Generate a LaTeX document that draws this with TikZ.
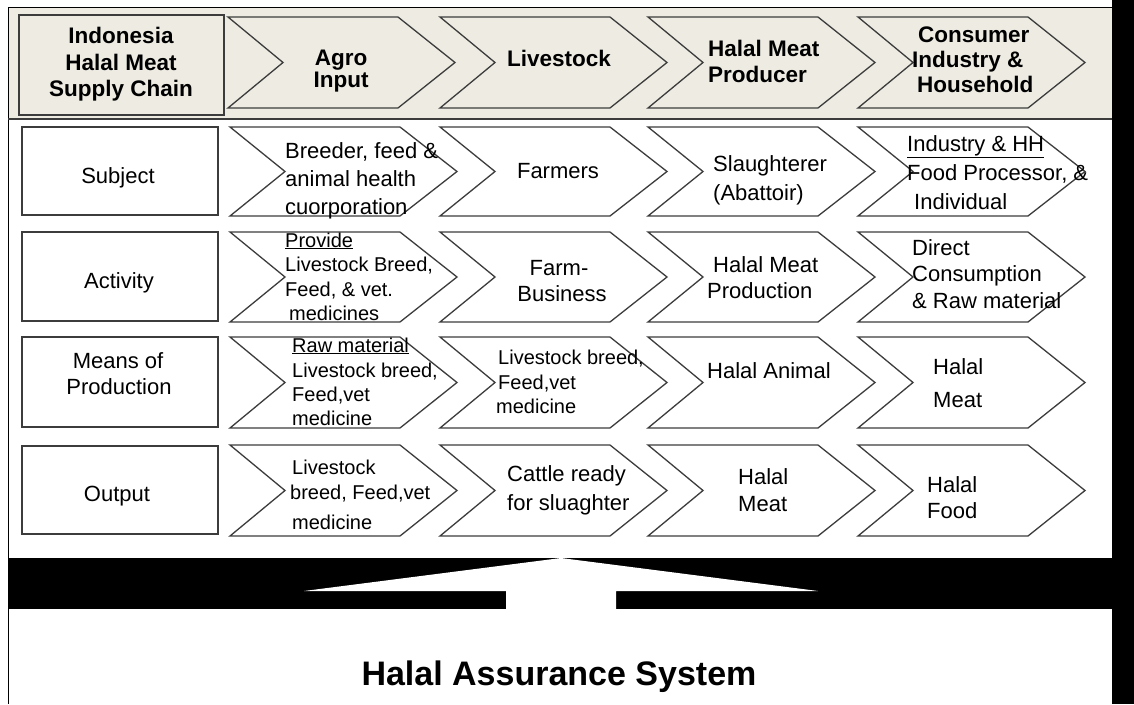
\documentclass[tikz,border=0pt]{standalone}
\usepackage{fontspec}
\setmainfont{Liberation Sans}
\definecolor{hdrfill}{RGB}{237,235,226}
\definecolor{linegray}{RGB}{60,60,60}
\tikzset{
  chevline/.style={draw=linegray, line width=1.3pt, line join=miter},
  boxline/.style={draw=linegray, line width=1.3pt},
  body/.style={font=\fontsize{22}{26}\selectfont, inner sep=0pt, anchor=base west},
  bodyc/.style={body, anchor=base},
  small/.style={font=\fontsize{20}{24}\selectfont, inner sep=0pt, anchor=base west},
  head/.style={font=\bfseries\fontsize{22.5}{26}\selectfont, inner sep=0pt, anchor=base west},
  headc/.style={head, anchor=base},
  has/.style={font=\bfseries\fontsize{34}{40}\selectfont, inner sep=0pt, anchor=base}
}
\newcommand\chv[4]{\draw[chevline,fill=#4] (#1,#2) -- (#1+170,#2) -- (#1+227,{(#2+#3)/2}) -- (#1+170,#3) -- (#1,#3) -- (#1+55,{(#2+#3)/2}) -- cycle;}
\newcommand\tx[5]{\node[#1] (#2) at (#3,#4) {#5};}
\begin{document}
\begin{tikzpicture}[x=1pt,y=-1pt]
\useasboundingbox (0,0) rectangle (1134,704);
\fill[white] (0,0) rectangle (1134,704);
% header band
\fill[hdrfill] (8,7) rectangle (1112,119);
\draw[black, line width=1pt] (8,7) -- (1112,7);
\draw[black, line width=1pt] (8,7) -- (8,704);
\draw[linegray, line width=1.6pt] (8,119) -- (1112,119);
% right black bar
\fill[black] (1112,0) rectangle (1134,704);
% header left box
\draw[boxline, fill=hdrfill] (19,15) rectangle (224,115);
% header chevrons
\chv{228}{17}{108}{hdrfill}
\chv{440}{17}{108}{hdrfill}
\chv{648}{17}{108}{hdrfill}
\chv{858}{17}{108}{hdrfill}
% body left boxes
\draw[boxline, fill=white] (22,127) rectangle (218,215);
\draw[boxline, fill=white] (22,232) rectangle (218,321);
\draw[boxline, fill=white] (22,337) rectangle (218,427);
\draw[boxline, fill=white] (22,446) rectangle (218,534);
% body chevrons
\foreach \L in {230,440,648,858}{
  \chv{\L}{127}{216}{white}
  \chv{\L}{232}{322}{white}
  \chv{\L}{337}{428}{white}
  \chv{\L}{445}{536}{white}
}
% black band with white arrow
\fill[black] (8,558) rectangle (1112,609);
\fill[white] (561,558) -- (818,591) -- (616,591) -- (616,610) -- (506,610) -- (506,591) -- (304,591) -- cycle;
% header texts
\tx{headc}{h1}{121}{43}{Indonesia}
\tx{headc}{h2}{121}{70}{Halal Meat}
\tx{headc}{h3}{121}{96}{Supply Chain}
\tx{headc}{h4}{341}{65}{Agro}
\tx{headc}{h5}{341}{87}{Input}
\tx{headc}{h6}{559}{66}{Livestock}
\tx{head}{h7}{708}{56}{Halal Meat}
\tx{head}{h8}{708}{82}{Producer}
\tx{head}{h9}{918}{42}{Consumer}
\tx{head}{h10}{912}{67}{Industry \&}
\tx{head}{h11}{917}{92}{Household}
% left column
\tx{bodyc}{l1}{118}{183}{Subject}
\tx{bodyc}{l2}{119}{288}{Activity}
\tx{bodyc}{l3}{118}{368}{Means of}
\tx{bodyc}{l4}{119}{394}{Production}
\tx{bodyc}{l5}{117}{501}{Output}
% agro column
\tx{body}{a1}{285}{158}{Breeder, feed \&}
\tx{body}{a2}{285}{186}{animal health}
\tx{body}{a3}{285}{214}{cuorporation}
\tx{small}{a4}{285}{247}{\underline{Provide}}
\tx{small}{a5}{285}{271}{Livestock Breed,}
\tx{small}{a6}{285}{296}{Feed, \& vet.}
\tx{small}{a7}{289}{320}{medicines}
\tx{small}{a8}{292}{352}{\underline{Raw material}}
\tx{small}{a9}{292}{377}{Livestock breed,}
\tx{small}{a10}{292}{401}{Feed,vet}
\tx{small}{a11}{292}{425}{medicine}
\tx{small}{a12}{292}{474}{Livestock}
\tx{small}{a13}{290}{499}{breed, Feed,vet}
\tx{small}{a14}{292}{529}{medicine}
% livestock column
\tx{bodyc}{b1}{558}{178}{Farmers}
\tx{bodyc}{b2}{559}{275}{Farm-}
\tx{bodyc}{b3}{562}{301}{Business}
\tx{small}{b4}{498}{364}{Livestock breed,}
\tx{small}{b5}{498}{389}{Feed,vet}
\tx{small}{b6}{496}{413}{medicine}
\tx{body}{b7}{507}{481}{Cattle ready}
\tx{body}{b8}{507}{510}{for sluaghter}
% halal meat producer column
\tx{body}{c1}{713}{171}{Slaughterer}
\tx{body}{c2}{713}{200}{(Abattoir)}
\tx{body}{c3}{713}{272}{Halal Meat}
\tx{body}{c4}{707}{298}{Production}
\tx{body}{c5}{707}{378}{Halal Animal}
\tx{body}{c6}{738}{484}{Halal}
\tx{body}{c7}{738}{511}{Meat}
% consumer column
\tx{body}{d1}{907}{151}{\underline{Industry \& HH}}
\tx{body}{d2}{907}{180}{Food Processor, \&}
\tx{body}{d3}{914}{209}{Individual}
\tx{body}{d4}{912}{255}{Direct}
\tx{body}{d5}{912}{281}{Consumption}
\tx{body}{d6}{912}{308}{\& Raw material}
\tx{body}{d7}{933}{374}{Halal}
\tx{body}{d8}{933}{407}{Meat}
\tx{body}{d9}{927}{492}{Halal}
\tx{body}{d10}{927}{518}{Food}
% bottom
\tx{has}{s1}{559}{685}{Halal Assurance System}
\end{tikzpicture}
\end{document}
